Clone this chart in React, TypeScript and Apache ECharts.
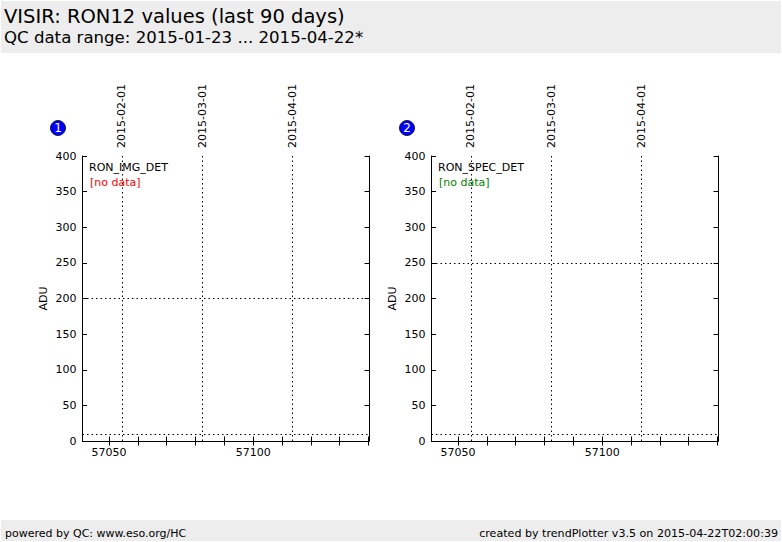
import React, { useEffect, useRef } from "react";
import * as echarts from "echarts";

// ---- data ----
const panelNames = ["RON_IMG_DET", "RON_SPEC_DET"];
const panelNumbers = ["1", "2"];
const noDataColors = ["#ff0000", "#008000"];
const dateLabels = ["2015-02-01", "2015-03-01", "2015-04-01"];
const dateMjd = [57054.5, 57082.5, 57113.5];
const xTickValues = [57050, 57060, 57070, 57080, 57090, 57100, 57110, 57120, 57130, 57140];
const xLabelValues = [57050, 57100];
const xRange = [57040.8, 57140.2];
const yRange = [0, 400];
const yInterval = 50;
const thresholdsLow = [10, 10];
const thresholdsHigh = [200, 250];
const seriesValues: number[][] = [[], []];

const FONT = "DejaVu Sans";

export default function App() {
  const ref = useRef<HTMLDivElement>(null);
  useEffect(() => {
    const chart = echarts.init(ref.current!, null, { renderer: "svg" });
    const gridLefts = [82.5, 431.5];
    const gridTop = 156;
    const gridW = 286.5;
    const gridH = 285;

    const grids: any[] = [];
    const xAxes: any[] = [];
    const yAxes: any[] = [];
    const series: any[] = [];
    const graphics: any[] = [];

    gridLefts.forEach((left, i) => {
      grids.push({ left, top: gridTop, width: gridW, height: gridH, containLabel: false });
      xAxes.push({
        type: "value",
        gridIndex: i,
        position: "bottom",
        min: xRange[0],
        max: xRange[1],
        axisLine: { show: true, lineStyle: { color: "#000", width: 1 } },
        axisTick: { show: true, inside: true, length: 4.5, customValues: xTickValues, lineStyle: { color: "#000" } },
        axisLabel: {
          show: true,
          customValues: xLabelValues,
          color: "#000",
          fontFamily: FONT,
          fontSize: 11,
          margin: 6,
          formatter: (v: number) => String(Math.round(v)),
        },
        splitLine: { show: false },
      });
      xAxes.push({
        type: "value",
        gridIndex: i,
        position: "top",
        min: xRange[0],
        max: xRange[1],
        axisLine: { show: true, lineStyle: { color: "#000", width: 1 } },
        axisTick: { show: true, inside: true, length: 4.5, customValues: xTickValues, lineStyle: { color: "#000" } },
        axisLabel: {
          show: true,
          customValues: dateMjd,
          rotate: 90,
          color: "#000",
          fontFamily: FONT,
          fontSize: 11,
          margin: 8,
          formatter: (v: number) => {
            const k = dateMjd.findIndex((d) => Math.abs(d - v) < 0.01);
            return k >= 0 ? dateLabels[k] : "";
          },
        },
        splitLine: { show: false },
      });
      yAxes.push({
        type: "value",
        gridIndex: i,
        position: "left",
        min: yRange[0],
        max: yRange[1],
        interval: yInterval,
        name: "ADU",
        nameLocation: "middle",
        nameGap: 34,
        nameTextStyle: { color: "#000", fontFamily: FONT, fontSize: 11 },
        axisLine: { show: true, lineStyle: { color: "#000", width: 1 } },
        axisTick: { show: true, inside: true, length: 4.5, lineStyle: { color: "#000" } },
        axisLabel: { color: "#000", fontFamily: FONT, fontSize: 11, margin: 6 },
        splitLine: { show: false },
      });
      yAxes.push({
        type: "value",
        gridIndex: i,
        position: "right",
        min: yRange[0],
        max: yRange[1],
        interval: yInterval,
        axisLine: { show: true, lineStyle: { color: "#000", width: 1 } },
        axisTick: { show: true, inside: true, length: 4.5, lineStyle: { color: "#000" } },
        axisLabel: { show: false },
        splitLine: { show: false },
      });
      series.push({
        type: "line",
        xAxisIndex: i * 2,
        yAxisIndex: i * 2,
        data: seriesValues[i],
        symbol: "none",
        markLine: {
          silent: true,
          symbol: ["none", "none"],
          label: { show: false },
          lineStyle: { color: "#000", type: [1.5, 3], width: 1 },
          data: [
            ...dateMjd.map((v) => ({ xAxis: v })),
            { yAxis: thresholdsLow[i] },
            { yAxis: thresholdsHigh[i] },
          ],
        },
      });
      graphics.push({
        type: "text",
        x: left + 6.5,
        y: gridTop + 6,
        style: { text: panelNames[i], fill: "#000", font: `11px '${FONT}'` },
      });
      graphics.push({
        type: "text",
        x: left + 7.5,
        y: gridTop + 21,
        style: { text: "[no data]", fill: noDataColors[i], font: `11px '${FONT}'` },
      });
      graphics.push({
        type: "circle",
        shape: { cx: left - 24.5, cy: 128, r: 7.5 },
        style: { fill: "#0000ff", stroke: "#000", lineWidth: 0.8 },
      });
      graphics.push({
        type: "text",
        x: left - 24.5,
        y: 127.5,
        style: {
          text: panelNumbers[i],
          fill: "#fff",
          font: `12px '${FONT}'`,
          align: "center",
          verticalAlign: "middle",
        },
      });
    });

    graphics.unshift(
      { type: "rect", shape: { x: 1, y: 1, width: 780, height: 52 }, style: { fill: "#ededed" } },
      { type: "rect", shape: { x: 1, y: 520, width: 780, height: 21 }, style: { fill: "#ededed" } },
      {
        type: "text",
        x: 4,
        y: 6,
        style: { text: "VISIR: RON12 values (last 90 days)", fill: "#000", font: `19.5px '${FONT}'` },
      },
      {
        type: "text",
        x: 4,
        y: 29,
        style: { text: "QC data range: 2015-01-23 ... 2015-04-22*", fill: "#000", font: `16.6px '${FONT}'` },
      },
      {
        type: "text",
        x: 5,
        y: 533,
        style: { text: "powered by QC: www.eso.org/HC", fill: "#000", font: `11px '${FONT}'`, verticalAlign: "middle" },
      },
      {
        type: "text",
        x: 778,
        y: 533,
        style: {
          text: "created by trendPlotter v3.5 on 2015-04-22T02:00:39",
          fill: "#000",
          font: `11.1px '${FONT}'`,
          align: "right",
          verticalAlign: "middle",
        },
      }
    );

    chart.setOption({
      animation: false,
      backgroundColor: "#fff",
      grid: grids,
      xAxis: xAxes,
      yAxis: yAxes,
      series,
      graphic: graphics,
    });
    return () => chart.dispose();
  }, []);
  return (
    <div
      ref={ref}
      style={{ position: "fixed", left: 0, top: 0, width: 782, height: 542 }}
    />
  );
}
